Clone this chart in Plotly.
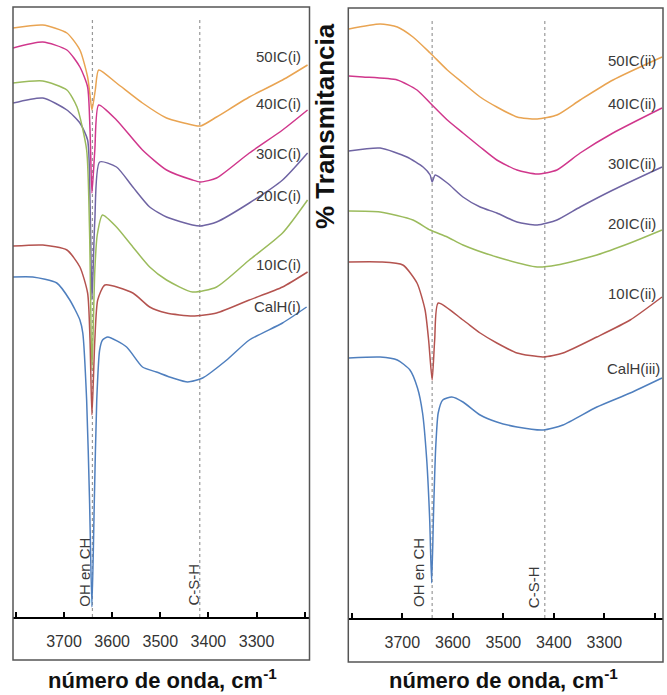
import plotly.graph_objects as go

# ---------------- data (wavenumber cm-1, transmittance a.u. with stacking offsets) ----------
series_names_left = ["50IC(i)", "40IC(i)", "30IC(i)", "20IC(i)", "10IC(i)", "CalH(i)"]
series_names_right = ["50IC(ii)", "40IC(ii)", "30IC(ii)", "20IC(ii)", "10IC(ii)", "CalH(iii)"]

l50_x = [3806, 3744, 3694, 3667, 3651, 3646, 3642, 3635, 3628, 3591, 3537, 3487, 3433, 3416, 3383, 3315, 3246, 3194]
l50_y = [589, 592, 584, 567, 540, 522, 507, 527, 547, 534, 514, 499, 492, 491, 500, 520, 537, 552]

l40_x = [3806, 3744, 3694, 3667, 3651, 3646, 3642, 3636, 3628, 3591, 3537, 3487, 3433, 3416, 3383, 3315, 3246, 3194]
l40_y = [569, 575, 567, 550, 530, 487, 424, 467, 512, 497, 467, 447, 437, 435, 439, 464, 487, 507]

l30_x = [3806, 3744, 3694, 3667, 3651, 3646, 3642, 3636, 3626, 3591, 3557, 3522, 3487, 3433, 3416, 3383, 3315, 3246, 3194]
l30_y = [514, 519, 507, 494, 477, 417, 317, 397, 455, 450, 430, 410, 400, 392, 391, 395, 414, 437, 464]

l20_x = [3806, 3744, 3694, 3673, 3653, 3647, 3642, 3636, 3631, 3620, 3591, 3557, 3522, 3487, 3433, 3383, 3315, 3246, 3194]
l20_y = [534, 536, 527, 510, 467, 387, 247, 347, 382, 402, 390, 370, 350, 337, 325, 330, 357, 384, 417]

l10_x = [3806, 3744, 3694, 3667, 3651, 3646, 3642, 3636, 3630, 3615, 3557, 3522, 3487, 3433, 3383, 3315, 3246, 3194]
l10_y = [371, 372, 367, 350, 324, 277, 202, 277, 317, 332, 324, 310, 304, 301, 304, 317, 330, 345]

lch_x = [3806, 3765, 3715, 3688, 3667, 3661, 3653, 3647, 3642, 3637, 3632, 3626, 3620, 3609, 3570, 3537, 3508, 3474, 3443, 3412, 3362, 3315, 3246, 3196]
lch_y = [340, 340, 334, 317, 297, 284, 217, 117, 10, 117, 217, 267, 277, 280, 270, 250, 245, 239, 235, 239, 257, 277, 294, 310]

r50_x = [3806, 3744, 3710, 3679, 3645, 3611, 3580, 3546, 3513, 3473, 3433, 3394, 3348, 3283, 3186]
r50_y = [589, 594, 591, 581, 565, 548, 535, 521, 511, 501, 499, 503, 518, 538, 561]

r40_x = [3806, 3778, 3710, 3671, 3645, 3611, 3580, 3546, 3513, 3473, 3433, 3394, 3348, 3283, 3186]
r40_y = [542, 541, 538, 528, 515, 498, 485, 471, 458, 448, 444, 448, 465, 485, 510]

r30_x = [3806, 3744, 3691, 3659, 3645, 3641, 3635, 3611, 3580, 3546, 3513, 3473, 3433, 3394, 3348, 3283, 3186]
r30_y = [467, 470, 461, 451, 443, 436, 443, 435, 421, 411, 405, 396, 393, 398, 411, 428, 451]

r20_x = [3806, 3744, 3679, 3645, 3611, 3580, 3513, 3433, 3394, 3315, 3249, 3186]
r20_y = [407, 406, 398, 388, 381, 373, 361, 351, 353, 363, 375, 388]

r10_x = [3806, 3744, 3699, 3671, 3655, 3648, 3641, 3636, 3629, 3580, 3546, 3513, 3473, 3421, 3382, 3315, 3249, 3186]
r10_y = [356, 356, 353, 335, 308, 278, 238, 278, 315, 298, 285, 275, 265, 261, 265, 281, 298, 321]

rch_x = [3806, 3744, 3710, 3685, 3670, 3660, 3652, 3646, 3642, 3638, 3634, 3629, 3620, 3602, 3580, 3546, 3513, 3473, 3421, 3382, 3315, 3249, 3186]
rch_y = [260, 261, 258, 248, 230, 205, 160, 100, 35, 110, 170, 205, 218, 221, 216, 203, 196, 191, 188, 193, 211, 225, 240]

tick_vals = [3700, 3600, 3500, 3400, 3300]
tick_text = ["3700", "3600", "3500", "3400", "3300"]
edge_ticks = [3800, 3200]
band_positions = [3641, 3418]
band_labels = ["OH en CH", "C-S-H"]

# ---------------- styling ----------------
colors = ["#E9A452", "#D0378C", "#6F64A3", "#9BBB5C", "#B4534F", "#4F7FBE"]
W, H = 667, 695


def px_x(p):
    return p / W


def px_y(p):
    return 1 - p / H


left_series = [(l50_x, l50_y), (l40_x, l40_y), (l30_x, l30_y), (l20_x, l20_y), (l10_x, l10_y), (lch_x, lch_y)]
right_series = [(r50_x, r50_y), (r40_x, r40_y), (r30_x, r30_y), (r20_x, r20_y), (r10_x, r10_y), (rch_x, rch_y)]

fig = go.Figure()
for (xs, ys), c, n in zip(left_series, colors, series_names_left):
    fig.add_trace(go.Scatter(x=xs, y=ys, mode="lines", name=n, xaxis="x", yaxis="y",
                             line=dict(color=c, width=1.5, shape="spline", smoothing=0.6),
                             showlegend=False, hoverinfo="skip"))
for (xs, ys), c, n in zip(right_series, colors, series_names_right):
    fig.add_trace(go.Scatter(x=xs, y=ys, mode="lines", name=n, xaxis="x2", yaxis="y2",
                             line=dict(color=c, width=1.5, shape="spline", smoothing=0.6),
                             showlegend=False, hoverinfo="skip"))

axis_common = dict(showgrid=False, zeroline=False, showline=True, linecolor="black", linewidth=2,
                   ticks="inside", ticklen=5, tickwidth=1.5, tickcolor="black",
                   tickvals=tick_vals, ticktext=tick_text, ticklabelstandoff=9,
                   minor=dict(tickvals=edge_ticks, ticks="inside", ticklen=5, tickwidth=1.5,
                              tickcolor="black", showgrid=False),
                   tickfont=dict(family="Liberation Sans, Arial", size=16, color="#333333"))
fig.update_layout(
    width=W, height=H, margin=dict(l=0, r=0, t=0, b=0),
    paper_bgcolor="white", plot_bgcolor="white",
    xaxis=dict(domain=[px_x(13), px_x(309.5)], range=[3806, 3190], anchor="y", **axis_common),
    yaxis=dict(domain=[px_y(617), px_y(7)], range=[0, 610], visible=False, anchor="x"),
    xaxis2=dict(domain=[px_x(348.3), px_x(663)], range=[3807, 3184], anchor="y2", **axis_common),
    yaxis2=dict(domain=[px_y(618), px_y(8)], range=[0, 610], visible=False, anchor="x2"),
)

shapes = []
# panel frames
shapes.append(dict(type="rect", xref="paper", yref="paper", x0=px_x(13), x1=px_x(309.5),
                   y0=px_y(660), y1=px_y(7), line=dict(color="#555555", width=1.5)))
shapes.append(dict(type="rect", xref="paper", yref="paper", x0=px_x(348.3), x1=px_x(663),
                   y0=px_y(662), y1=px_y(8), line=dict(color="#555555", width=1.5)))
# band marker lines
for xr, yr in (("x", "y domain"), ("x2", "y2 domain")):
    for b in band_positions:
        shapes.append(dict(type="line", xref=xr, yref=yr, x0=b, x1=b, y0=0, y1=0.979,
                           line=dict(color="#999999", width=1.2, dash="dot"), layer="below"))
fig.update_layout(shapes=shapes)

ann = []
lab_font = dict(family="Liberation Sans, Arial", size=15, color="#3a3a3a")
left_label_y = [560, 513, 464, 422, 353, 311]
right_label_y = [558, 515, 455, 395, 325, 250]
for n, yv in zip(series_names_left, left_label_y):
    ann.append(dict(x=3203, y=yv, xref="x", yref="y", text=n, showarrow=False,
                    xanchor="right", yanchor="middle", font=lab_font))
for n, yv in zip(series_names_right, right_label_y):
    ann.append(dict(x=3194 if n != "CalH(iii)" else 3186, y=yv, xref="x2", yref="y2", text=n,
                    showarrow=False, xanchor="right", yanchor="middle", font=lab_font))
# band labels (rotated)
band_ann_pos = [("x", "y", 3659, 45, 0), ("x", "y", 3433, 32, 1),
                ("x2", "y2", 3669, 45, 0), ("x2", "y2", 3441, 31, 1)]
for xr, yr, xv, yv, i in band_ann_pos:
    ann.append(dict(x=xv, y=yv, xref=xr, yref=yr, text=band_labels[i], textangle=-90,
                    showarrow=False, xanchor="center", yanchor="middle", font=lab_font))
# axis titles
ann.append(dict(x=px_x(325), y=px_y(126), xref="paper", yref="paper", text="<b>% Transmitancia</b>",
                textangle=-90, showarrow=False, xanchor="center", yanchor="middle",
                font=dict(family="Liberation Sans, Arial", size=26, color="#111111")))
for cx in (162, 503):
    ann.append(dict(x=px_x(cx), y=px_y(679), xref="paper", yref="paper",
                    text="<b>número de onda, cm<sup>-1</sup></b>", showarrow=False,
                    xanchor="center", yanchor="middle",
                    font=dict(family="Liberation Sans, Arial", size=22, color="#111111")))
fig.update_layout(annotations=ann)

fig.write_html("out.html", config={"displayModeBar": False},
               post_script="document.body.style.margin='0px';document.body.style.overflow='hidden';")
